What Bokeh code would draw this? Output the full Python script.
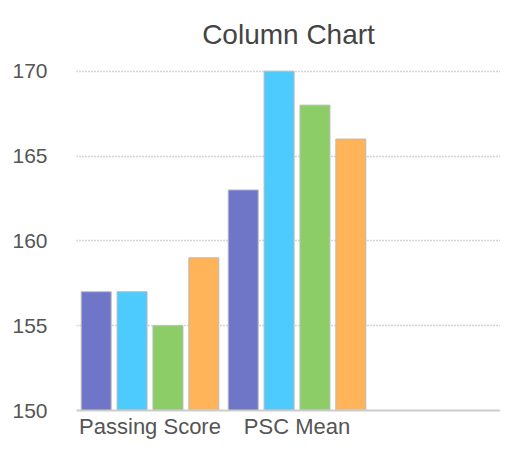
import numpy as np
from bokeh.plotting import figure
from bokeh.models import Range1d, FixedTicker, ColumnDataSource
from bokeh.embed import file_html
from bokeh.resources import INLINE

categories = ["Passing Score", "PSC Mean"]
series1 = [157, 163]
series2 = [157, 170]
series3 = [155, 168]
series4 = [159, 166]
colors = ["#6f76c8", "#4dcbff", "#8ccd68", "#ffb45a"]
y_ticks = [150, 155, 160, 165, 170]

centers = np.arange(len(categories)) + 0.5

p = figure(x_range=Range1d(0, 2.884), y_range=Range1d(150, 170.1),
           width=500, height=441, output_backend="svg", toolbar_location=None,
           min_border_left=76, min_border_right=0, min_border_top=69, min_border_bottom=29,
           title="Column Chart")
p.outline_line_color = None
p.title.align = "center"
p.title.vertical_align = "top"
p.title.text_font = "Liberation Sans"
p.title.text_font_size = "28px"
p.title.text_font_style = "normal"
p.title.text_color = "#444444"
p.title.standoff = 35

offsets = [-0.366, -0.122, 0.122, 0.366]
for vals, off, c in zip([series1, series2, series3, series4], offsets, colors):
    src = ColumnDataSource(dict(x=centers + off, top=vals))
    p.vbar(x="x", top="top", bottom=150, width=0.204, source=src,
           fill_color=c, line_color="#bbbbbb", line_width=1)

p.xgrid.grid_line_color = None
p.ygrid.grid_line_color = "#a8a8a8"
p.ygrid.grid_line_dash = "1 2"
p.ygrid.grid_line_width = 1.5

p.yaxis.ticker = FixedTicker(ticks=y_ticks)
p.yaxis.axis_line_color = None
p.yaxis.major_tick_line_color = None
p.yaxis.minor_tick_line_color = None
p.yaxis.major_tick_out = 0
p.yaxis.major_tick_in = 0
p.yaxis.minor_tick_out = 0
p.yaxis.major_label_standoff = 29
p.yaxis.major_label_text_font = "Liberation Sans"
p.yaxis.major_label_text_font_size = "21px"
p.yaxis.major_label_text_color = "#555555"

p.xaxis.ticker = FixedTicker(ticks=list(centers))
p.xaxis.major_label_overrides = {float(c): name for c, name in zip(centers, categories)}
p.xaxis.axis_line_color = "#cccccc"
p.xaxis.axis_line_width = 2
p.xaxis.major_tick_line_color = None
p.xaxis.minor_tick_line_color = None
p.xaxis.major_tick_out = 0
p.xaxis.major_tick_in = 0
p.xaxis.minor_tick_out = 0
p.xaxis.major_label_standoff = 3
p.xaxis.major_label_text_font = "Liberation Sans"
p.xaxis.major_label_text_font_size = "22px"
p.xaxis.major_label_text_color = "#555555"

open("out.html", "w").write(file_html(p, INLINE))
